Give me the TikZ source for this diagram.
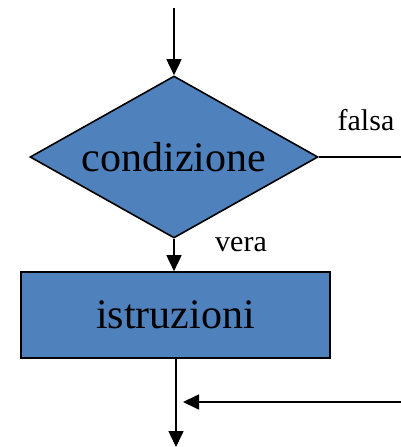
\documentclass[tikz,border=0pt]{standalone}
\usepackage{fontspec}
\setmainfont{Liberation Serif}
\usetikzlibrary{shapes.geometric,arrows.meta}
\definecolor{boxblue}{HTML}{4F81BD}
\begin{document}
\begin{tikzpicture}[x=1pt,y=-1pt,
  line width=1.6pt,
  arr/.style={-{Triangle[width=15pt,length=16pt]}},
  shapebox/.style={draw=black,fill=boxblue,inner sep=0pt},
  bigtext/.style={font=\fontsize{42}{44}\selectfont},
  lbl/.style={font=\fontsize{30}{32}\selectfont,anchor=base}]
\useasboundingbox (0,0) rectangle (400,447);
\node[shapebox,diamond,aspect=1.78,minimum width=288pt,minimum height=162pt,bigtext] (cond) at (174,157) {condizione};
\node[shapebox,rectangle,minimum width=309pt,minimum height=86pt,bigtext] (istr) at (175.5,315) {istruzioni};
\coordinate (start) at (174,8);
\coordinate (fend) at (401,157);
\coordinate (rin) at (401,402);
\coordinate (mergetip) at (183,402);
\coordinate (stop) at (176,447);
\draw[arr] (start) -- (cond.north);
\draw (cond.east) -- (fend);
\draw[arr] (cond.south) -- (cond.south |- istr.north);
\draw[arr] (istr.south -| stop) -- (stop);
\draw[arr] (rin) -- (mergetip);
\node[lbl] (falsa) at (366,130) {falsa};
\node[lbl] (vera) at (241,251) {vera};
\end{tikzpicture}
\end{document}
